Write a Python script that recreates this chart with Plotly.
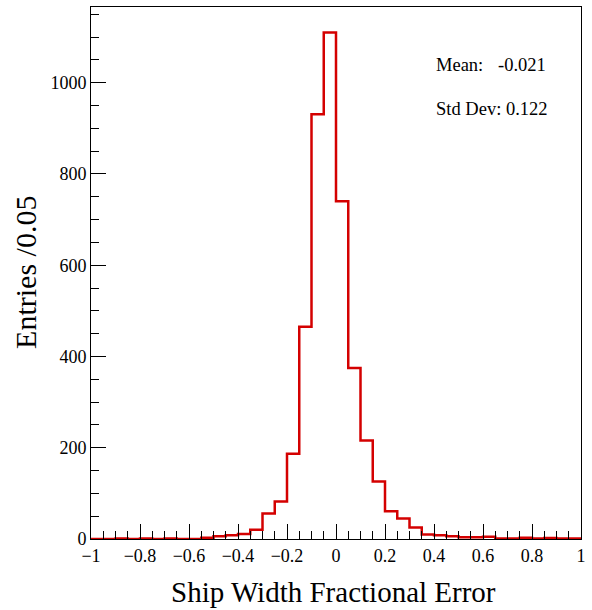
import plotly.graph_objects as go

# Histogram data (bin width 0.05 from -1 to 1)
bin_lo = -1.0
bin_width = 0.05
counts = [0, 0, 1, 0, 1, 0, 1, 0, 0, 3,
          6, 8, 11, 20, 56, 82, 187, 465, 931, 1110,
          740, 375, 216, 126, 61, 45, 25, 10, 8, 6,
          4, 4, 5, 1, 1, 3, 1, 2, 1, 1]
mean_val = -0.021
std_val = 0.122
x_title = "Ship Width Fractional Error"
y_title = "Entries /0.05"
x_ticks = [-1, -0.8, -0.6, -0.4, -0.2, 0, 0.2, 0.4, 0.6, 0.8, 1]
y_ticks = [0, 200, 400, 600, 800, 1000]

edges = [round(bin_lo + i * bin_width, 4) for i in range(len(counts) + 1)]
ys = counts + [counts[-1]]

fig = go.Figure()
fig.add_trace(go.Scatter(
    x=edges, y=ys, mode="lines", line_shape="hv",
    line=dict(color="#d40000", width=2.5), hoverinfo="skip", showlegend=False,
))


def fmt(v):
    s = f"{v:g}"
    return s.replace("-", "\u2212")


font_family = "Liberation Serif"
axis_common = dict(
    showline=True, linecolor="black", linewidth=1, mirror=True,
    showgrid=False, zeroline=False, automargin=False,
    ticks="inside", ticklen=15, tickwidth=1, tickcolor="black",
    tickfont=dict(family=font_family, size=18, color="black"),
    ticklabeloverflow="allow",
)

fig.update_layout(
    width=592, height=610,
    margin=dict(l=91, r=11, t=7, b=71, autoexpand=False),
    paper_bgcolor="white", plot_bgcolor="white",
    font=dict(family=font_family, color="black"),
    xaxis=dict(
        range=[-1, 1], tickvals=x_ticks, ticktext=[fmt(v) for v in x_ticks],
        minor=dict(ticks="inside", ticklen=8, tickcolor="black", dtick=0.05, showgrid=False),
        **axis_common,
    ),
    yaxis=dict(
        range=[0, 1166], tickvals=y_ticks,
        minor=dict(ticks="inside", ticklen=8, tickcolor="black", dtick=50, showgrid=False),
        **axis_common,
    ),
)

# Axis titles
fig.add_annotation(x=0.495, y=-0.099, xref="paper", yref="paper", text=x_title,
                   showarrow=False, xanchor="center", yanchor="middle",
                   font=dict(family=font_family, size=29, color="black"))
fig.add_annotation(x=-0.1327, y=0.502, xref="paper", yref="paper", text=y_title,
                   showarrow=False, xanchor="center", yanchor="middle", textangle=-90,
                   font=dict(family=font_family, size=30, color="black"))

# Stats box text
fig.add_annotation(x=0.70, y=0.8905, xref="paper", yref="paper", text="Mean:",
                   showarrow=False, xanchor="left", yanchor="middle",
                   font=dict(family=font_family, size=18.5, color="black"))
fig.add_annotation(x=0.932, y=0.8905, xref="paper", yref="paper", text=f"{mean_val:.3f}",
                   showarrow=False, xanchor="right", yanchor="middle",
                   font=dict(family=font_family, size=18.5, color="black"))
fig.add_annotation(x=0.70, y=0.809, xref="paper", yref="paper", text=f"Std Dev: {std_val:.3f}",
                   showarrow=False, xanchor="left", yanchor="middle",
                   font=dict(family=font_family, size=18.5, color="black"))

fig.write_html("out.html", config={"displayModeBar": False},
               post_script="document.body.style.margin='0';document.body.style.padding='0';")
